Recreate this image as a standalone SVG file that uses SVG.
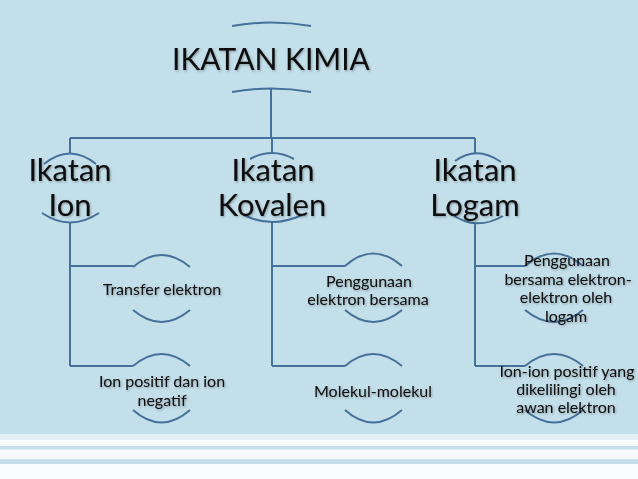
<svg xmlns="http://www.w3.org/2000/svg" width="638" height="479" viewBox="0 0 638 479">
<defs>
<filter id="sh" x="-10%" y="-20%" width="120%" height="140%">
<feDropShadow dx="1" dy="1.2" stdDeviation="0.8" flood-color="#000" flood-opacity="0.3"/>
</filter>
<style>
.ln{fill:none;stroke:#44709a;stroke-width:2}
.arc{fill:none;stroke:#44709a;stroke-width:2}
text{font-family:Lato,"Open Sans","DejaVu Sans",sans-serif;fill:#0a0a0a;text-anchor:middle;filter:url(#sh)}
.t1{font-size:30px}
.t2{font-size:31px}
.t3{font-size:16px}
.t4{font-size:16px}
</style>
</defs>
<rect x="0" y="0" width="638" height="479" fill="#c3dfea"/>
<rect x="0" y="434" width="638" height="6" fill="#e3eff4"/>
<rect x="0" y="440" width="638" height="6" fill="#f8fbfc"/>
<rect x="0" y="446" width="638" height="3.5" fill="#c6dee9"/>
<rect x="0" y="449.5" width="638" height="10" fill="#f8fbfc"/>
<rect x="0" y="459.5" width="638" height="4.5" fill="#c6dee9"/>
<rect x="0" y="464" width="638" height="15" fill="#fbfcfd"/>
<g id="connectors">
<path class="ln" d="M271 89 V138 M70 138 H475 M70 138 V153 M272 138 V153 M475 138 V153"/>
<path class="ln" d="M70 223 V366 M70 266 H133 M70 366 H133"/>
<path class="ln" d="M272 222 V366 M272 266 H345 M272 366 H345"/>
<path class="ln" d="M475 222 V366 M475 266 H525 M475 366 H525"/>
</g>
<g id="n-kimia">
<path class="arc" d="M232 26 Q271 19 311 26"/>
<path class="arc" d="M232 92 Q271 85 311 92"/>
<text class="t1" x="271" y="70">IKATAN KIMIA</text>
</g>
<g id="n-ion">
<path class="arc" d="M44 164 Q70 143 96 164"/>
<path class="arc" d="M42 213 Q70 232 99 213"/>
<text class="t2" x="70" y="181">Ikatan</text>
<text class="t2" x="70" y="216">Ion</text>
</g>
<g id="n-kovalen">
<path class="arc" d="M250 159 Q272 147 294 159"/>
<path class="arc" d="M244 215 Q272 229 302 215"/>
<text class="t2" x="273" y="181">Ikatan</text>
<text class="t2" x="272" y="216">Kovalen</text>
</g>
<g id="n-logam">
<path class="arc" d="M455 161 Q477 145 501 162"/>
<path class="arc" d="M450 213 Q475 232 503 216"/>
<text class="t2" x="475" y="181">Ikatan</text>
<text class="t2" x="475" y="216">Logam</text>
</g>
<g id="n-transfer">
<path class="arc" d="M133 267 Q161.5 243 190 267"/>
<path class="arc" d="M133 310 Q161.5 334 190 310"/>
<text class="t3" x="162" y="295">Transfer elektron</text>
</g>
<g id="n-ionpositif">
<path class="arc" d="M133 366 Q161.5 342 190 366"/>
<path class="arc" d="M133 410 Q161.5 435 190 410"/>
<text class="t3" x="162" y="387">Ion positif dan ion</text>
<text class="t3" x="162" y="406">negatif</text>
</g>
<g id="n-penggunaan">
<path class="arc" d="M345 266 Q373 241 402 266"/>
<path class="arc" d="M345 310 Q373 334 402 310"/>
<text class="t3" x="369" y="287">Penggunaan</text>
<text class="t3" x="368" y="305">elektron bersama</text>
</g>
<g id="n-molekul">
<path class="arc" d="M345 366 Q373 342 402 366"/>
<path class="arc" d="M345 410 Q373 435 402 410"/>
<text class="t3" x="373" y="397">Molekul-molekul</text>
</g>
<g id="n-logam1">
<path class="arc" d="M525 266 Q554 241 583 266"/>
<path class="arc" d="M525 310 Q554 334 583 310"/>
<text class="t4" x="567" y="266">Penggunaan</text>
<text class="t4" x="568" y="284.5">bersama elektron-</text>
<text class="t4" x="566" y="303">elektron oleh</text>
<text class="t4" x="566" y="321.5">logam</text>
</g>
<g id="n-logam2">
<path class="arc" d="M525 366 Q554 342 583 366"/>
<path class="arc" d="M525 410 Q554 435 583 410"/>
<text class="t4" x="567" y="377">Ion-ion positif yang</text>
<text class="t4" x="566" y="395">dikelilingi oleh</text>
<text class="t4" x="566" y="413">awan elektron</text>
</g>
</svg>
